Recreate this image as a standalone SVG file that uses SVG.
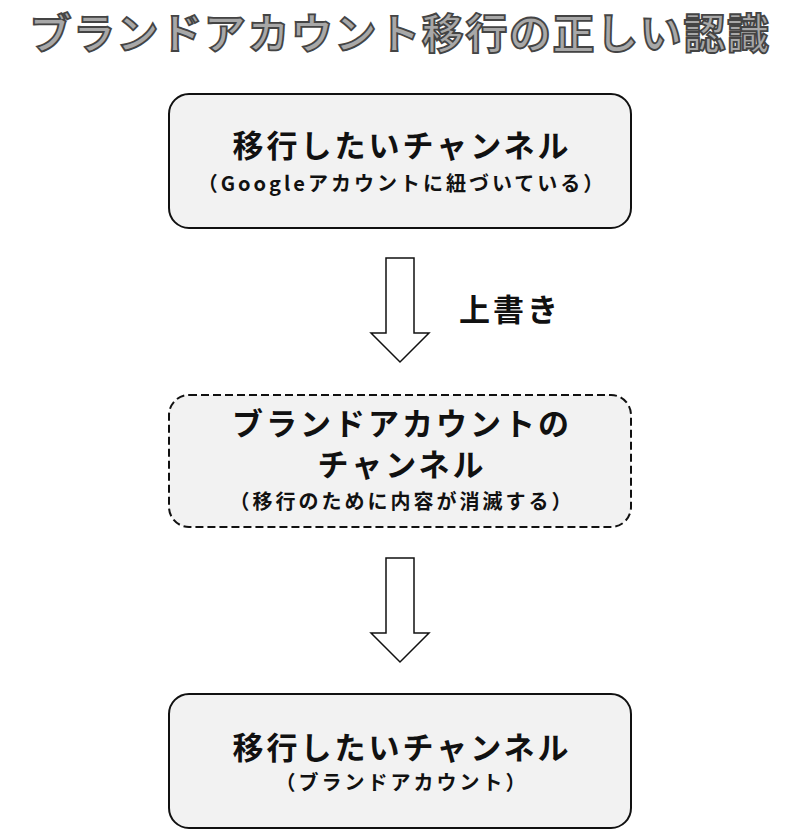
<svg xmlns="http://www.w3.org/2000/svg" width="800" height="830" viewBox="0 0 800 830">
<defs><style>
text{font-family:"Noto Sans CJK JP","Noto Sans",sans-serif;font-weight:bold;text-anchor:middle;fill:#111}
.box{fill:#f2f2f2;stroke:#111;stroke-width:2}
.arr{fill:#fff;stroke:#111;stroke-width:1.5}
.big{font-size:31px;letter-spacing:3px}.sm{font-size:20px;letter-spacing:3px}
</style></defs>
<rect width="800" height="830" fill="#fff"/>
<text x="400" y="49" style="font-size:42px;fill:#a8a8a8;stroke:#444;stroke-width:1.8;letter-spacing:1.6px">ブランドアカウント移行の正しい認識</text>
<g id="n1"><rect class="box" x="169" y="94" width="462" height="134" rx="20"/>
<text class="big" x="402" y="157">移行したいチャンネル</text>
<text class="sm" x="402" y="191">（Googleアカウントに紐づいている）</text></g>
<g id="n2"><rect class="box" x="169" y="395" width="462" height="132" rx="20" stroke-dasharray="8,4"/>
<text class="big" x="402" y="435">ブランドアカウントの</text>
<text class="big" x="402" y="476">チャンネル</text>
<text class="sm" x="402" y="509">（移行のために内容が消滅する）</text></g>
<g id="n3"><rect class="box" x="169" y="694" width="462" height="134" rx="20"/>
<text class="big" x="402" y="759">移行したいチャンネル</text>
<text class="sm" x="402" y="790">（ブランドアカウント）</text></g>
<g id="connectors">
<path class="arr" d="M386 258H414V333H429L400 362L371 333H386Z"/>
<text class="big" x="510" y="321">上書き</text>
<path class="arr" d="M386 558H414V633H429L400 662L371 633H386Z"/>
</g>
</svg>
